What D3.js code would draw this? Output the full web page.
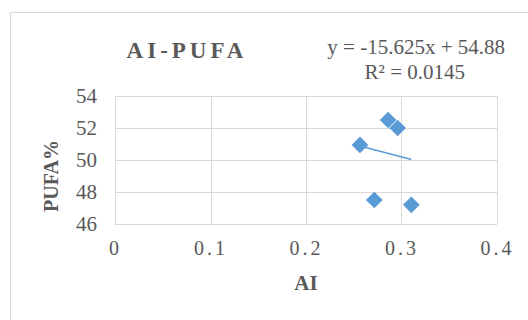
<!DOCTYPE html>
<html>
<head>
<meta charset="utf-8">
<script src="https://cdn.jsdelivr.net/npm/d3@7"></script>
<style>
  body { margin: 0; background: #fff; }
  text { font-family: "Liberation Serif", "Times New Roman", serif; fill: #595959; }
</style>
</head>
<body>
<div class="graph"></div>
<script>
// data
const aiValues   = [0.286, 0.296, 0.2565, 0.2715, 0.3103];
const pufaValues = [52.5, 52.0, 50.94, 47.5, 47.2];
const xTicks = [0, 0.1, 0.2, 0.3, 0.4];
const yTicks = [46, 48, 50, 52, 54];
const slope = -15.625, intercept = 54.88;
const eqLabel = "y = -15.625x + 54.88";
const r2Label = "R² = 0.0145";

const W = 528, H = 320;
const margin = {top: 96, right: 31, bottom: 96, left: 115},
  width = W - margin.left - margin.right,
  height = H - margin.top - margin.bottom;

const svg = d3.select(".graph").append("svg")
  .attr("width", W)
  .attr("height", H);

// chart frame, runs off the right/bottom edge
svg.append("rect")
  .attr("x", 10.5).attr("y", 12.5)
  .attr("width", W).attr("height", H)
  .attr("fill", "#fff")
  .attr("stroke", "#d9d9d9");

const g = svg.append("g")
  .attr("transform", "translate(" + margin.left + "," + margin.top + ")");

const x = d3.scaleLinear().domain([0, 0.4]).range([0, width]),
      y = d3.scaleLinear().domain([46, 54]).range([height, 0]);

// gridlines
g.selectAll(".hgrid").data(yTicks).enter().append("line")
  .attr("x1", 0).attr("x2", width)
  .attr("y1", d => Math.round(y(d)) + 0.5).attr("y2", d => Math.round(y(d)) + 0.5)
  .attr("stroke", "#d9d9d9").attr("stroke-width", 1);
g.selectAll(".vgrid").data(xTicks).enter().append("line")
  .attr("y1", 0).attr("y2", height)
  .attr("x1", d => Math.round(x(d)) + 0.5).attr("x2", d => Math.round(x(d)) + 0.5)
  .attr("stroke", "#d9d9d9").attr("stroke-width", 1);

// axes (labels only)
const yAxis = d3.axisLeft(y).tickValues(yTicks).tickSize(0).tickPadding(18);
const xAxis = d3.axisBottom(x).tickValues(xTicks).tickSize(0).tickPadding(17)
  .tickFormat(d => d === 0 ? "0" : d3.format(".1f")(d));

g.append("g").call(yAxis)
  .call(a => a.select(".domain").remove())
  .selectAll("text")
    .style("font-size", "21px")
    .style("fill", "#595959");

g.append("g").attr("transform", "translate(0," + height + ")").call(xAxis)
  .call(a => a.select(".domain").remove())
  .selectAll("text")
    .style("font-size", "20px")
    .style("letter-spacing", "3px")
    .style("fill", "#595959");

// trendline over the data range
const xr = d3.extent(aiValues);
const line = d3.line().x(d => x(d)).y(d => y(slope * d + intercept));
g.append("path")
  .attr("d", line(xr))
  .attr("fill", "none")
  .attr("stroke", "#5b9bd5")
  .attr("stroke-width", 1.5);

// points
const diamond = d3.symbol().type(d3.symbolSquare).size(140);
g.selectAll(".pt").data(aiValues).enter().append("path")
  .attr("d", diamond)
  .attr("transform", (d, i) => "translate(" + x(d) + "," + y(pufaValues[i]) + ") rotate(45)")
  .attr("fill", "#5b9bd5");

// titles
svg.append("text")
  .attr("x", 187).attr("y", 58)
  .attr("text-anchor", "middle")
  .style("font-size", "23px").style("font-weight", "bold")
  .style("letter-spacing", "4px")
  .text("AI-PUFA");

svg.append("text")
  .attr("x", 505).attr("y", 54)
  .attr("text-anchor", "end")
  .style("font-size", "21px")
  .text(eqLabel);
svg.append("text")
  .attr("x", 465).attr("y", 79)
  .attr("text-anchor", "end")
  .style("font-size", "21px")
  .text(r2Label);

svg.append("text")
  .attr("transform", "translate(58,176) rotate(-90)")
  .attr("text-anchor", "middle")
  .style("font-size", "20px").style("font-weight", "bold")
  .text("PUFA%");

svg.append("text")
  .attr("x", margin.left + width / 2).attr("y", 290)
  .attr("text-anchor", "middle")
  .style("font-size", "21px").style("font-weight", "bold")
  .text("AI");
</script>
</body>
</html>
